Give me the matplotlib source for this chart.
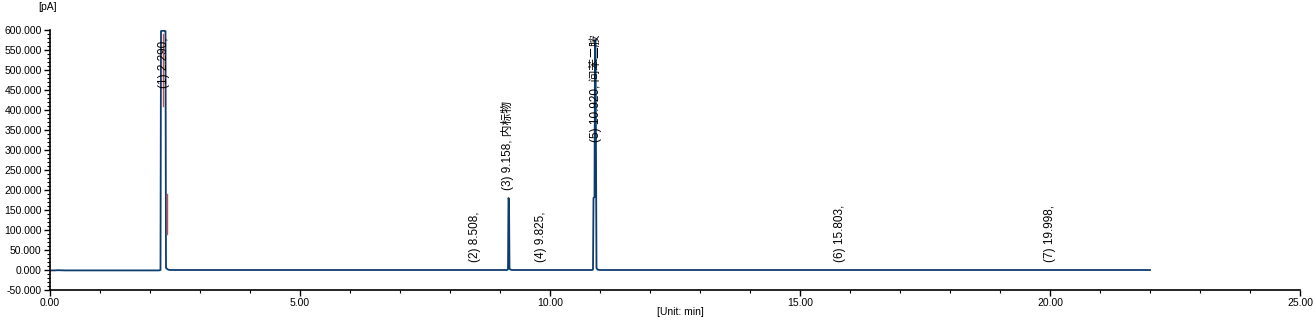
import numpy as np
import matplotlib
matplotlib.use("Agg")
import matplotlib.pyplot as plt
from matplotlib.ticker import MultipleLocator, FormatStrFormatter

plt.rcParams['font.family'] = ['Liberation Sans', 'Noto Sans CJK SC', 'DejaVu Sans']

# chromatogram trace (min, pA)
rt = [0.00, 0.10, 0.15, 0.30, 2.18, 2.21, 2.22, 2.24, 2.29, 2.31, 2.32, 2.33, 2.36, 2.40,
      5.00, 8.50, 9.14, 9.16, 9.17, 9.18, 9.19, 9.21, 9.24, 10.00, 10.84, 10.86, 10.87,
      10.89, 10.90, 10.91, 10.93, 10.95, 11.00, 15.80, 20.00, 22.00]
signal = [-1, -1, -0.5, -1, -1, 0, 597, 598, 598, 597, 5, 4, 1, 0,
          0, 0, 0, 2, 180, 175, 3, 1, 0, 0, 0, 1, 180,
          182, 575, 575, 5, 1, 0, 0, 0, 0]

# peak annotations
peak_rt = [2.290, 8.508, 9.158, 9.825, 10.920, 15.803, 19.998]
peak_text = ["(1) 2.290,", "(2) 8.508,", "(3) 9.158, 内标物", "(4) 9.825,",
             "(5) 10.920, 间苯二胺", "(6) 15.803,", "(7) 19.998,"]
label_y = [455, 20, 200, 20, 320, 20, 20]

# integration marks (red)
mark_x = [2.265, 2.335]
mark_lo = [410, 90]
mark_hi = [590, 190]

line_color = "#0d3c6e"

fig = plt.figure(figsize=(13.16, 3.24), dpi=100)
ax = fig.add_axes([50 / 1316, 34 / 324, 1250 / 1316, 260 / 324])

ax.plot(rt, signal, color=line_color, lw=1.3)
for x, lo, hi in zip(mark_x, mark_lo, mark_hi):
    ax.plot([x, x], [lo, hi], color="#c0504d", lw=1.0)

for x, t, y in zip(peak_rt, peak_text, label_y):
    ax.text(x, y, t, rotation=90, ha="center", va="bottom", fontsize=8.5, color="black")

ax.set_xlim(0, 25)
ax.set_ylim(-50, 600)
ax.xaxis.set_major_locator(MultipleLocator(5))
ax.xaxis.set_minor_locator(MultipleLocator(1))
ax.yaxis.set_major_locator(MultipleLocator(50))
ax.yaxis.set_minor_locator(MultipleLocator(10))
ax.xaxis.set_major_formatter(FormatStrFormatter("%.2f"))
ax.yaxis.set_major_formatter(FormatStrFormatter("%.3f"))
ax.tick_params(axis="both", which="major", length=4, width=1, labelsize=7.5, pad=2)
ax.tick_params(axis="both", which="minor", length=2, width=0.8)
for s in ["top", "right"]:
    ax.spines[s].set_visible(False)
for s in ["left", "bottom"]:
    ax.spines[s].set_linewidth(1.2)

fig.text(48 / 1316, 1 - 7 / 324, "[pA]", ha="center", va="center", fontsize=7.5)
fig.text(680 / 1316, 1 - 312 / 324, "[Unit: min]", ha="center", va="center", fontsize=7.5)

fig.savefig("out.png", dpi=100)
